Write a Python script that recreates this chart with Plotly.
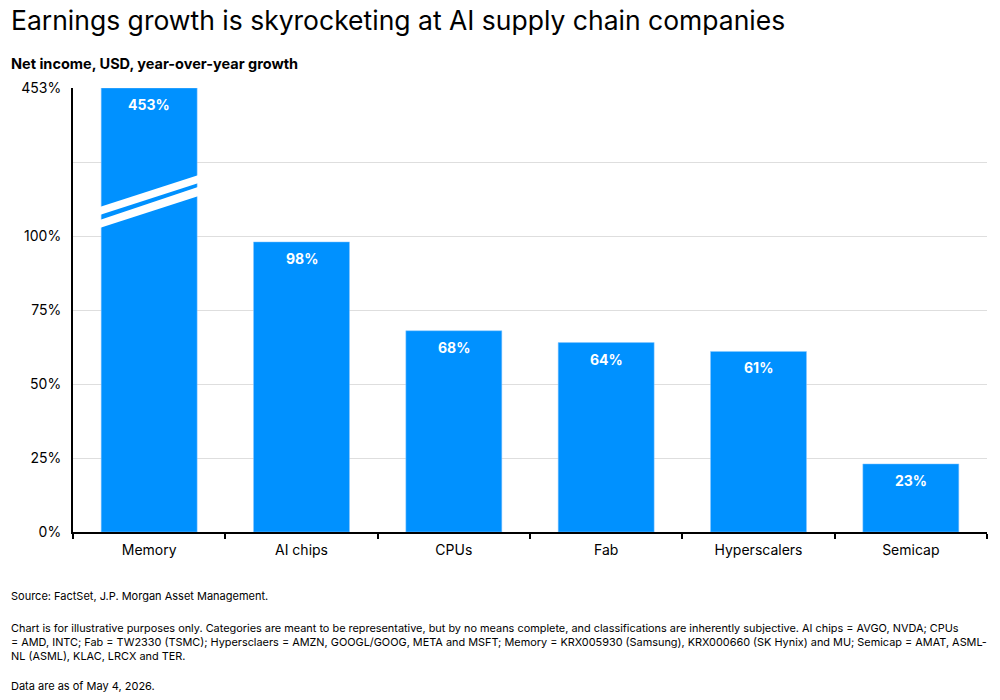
import plotly.graph_objects as go

categories = ["Memory", "AI chips", "CPUs", "Fab", "Hyperscalers", "Semicap"]
growth = [453, 98, 68, 64, 61, 23]

tick_vals = [0, 25, 50, 75, 100, 125, 150]
tick_text = ["0%", "25%", "50%", "75%", "100%", "", "453%"]

cap = 150  # top of the broken axis stands for the Memory value
bar_color = "#0091ff"
bar_w = 0.63
font = "Inter"

shown = [min(v, cap) for v in growth]

fig = go.Figure()
fig.add_trace(go.Bar(
    x=categories,
    y=shown,
    width=bar_w,
    marker=dict(color=bar_color, line=dict(color="#8cc8ff", width=0.5)),
    hoverinfo="skip",
))

# value labels inside the top of each bar
for c, s, v in zip(categories, shown, growth):
    fig.add_annotation(x=c, y=s, text=f"<b>{v}%</b>", showarrow=False,
                       yanchor="top", yshift=-6,
                       font=dict(family=font, size=14, color="white"))

# axis break drawn across the Memory bar
half = bar_w / 2 + 0.01
stripes = [(109.8, 107.1, 120.6, 117.9), (105.4, 102.7, 116.6, 113.5)]
for lt, lb, rt, rb in stripes:
    fig.add_shape(type="path",
                  path=f"M {-half} {lt} L {half} {rt} L {half} {rb} L {-half} {lb} Z",
                  fillcolor="white", line=dict(width=0), layer="above")

left = -0.0695
fig.add_annotation(xref="paper", yref="paper", x=left, y=1.153,
                   xanchor="left", yanchor="middle", showarrow=False,
                   text="Earnings growth is skyrocketing at AI supply chain companies",
                   font=dict(family=font, size=26.5, color="black"))
fig.add_annotation(xref="paper", yref="paper", x=left, y=1.056,
                   xanchor="left", yanchor="middle", showarrow=False,
                   text="<b>Net income, USD, year-over-year growth</b>",
                   font=dict(family=font, size=14.5, color="black"))

notes = ("Chart is for illustrative purposes only. Categories are meant to be representative, but by no means complete, and classifications are inherently subjective. AI chips = AVGO, NVDA; CPUs<br>"
         "= AMD, INTC; Fab = TW2330 (TSMC); Hypersclaers = AMZN, GOOGL/GOOG, META and MSFT; Memory = KRX005930 (Samsung), KRX000660 (SK Hynix) and MU; Semicap = AMAT, ASML-<br>"
         "NL (ASML), KLAC, LRCX and TER.")
fig.add_annotation(xref="paper", yref="paper", x=left, y=-0.144,
                   xanchor="left", yanchor="middle", showarrow=False, align="left",
                   text="Source: FactSet, J.P. Morgan Asset Management.",
                   font=dict(family=font, size=11, color="black"))
fig.add_annotation(xref="paper", yref="paper", x=left, y=-0.248,
                   xanchor="left", yanchor="middle", showarrow=False, align="left",
                   text=notes, font=dict(family=font, size=10.9, color="black"))
fig.add_annotation(xref="paper", yref="paper", x=left, y=-0.347,
                   xanchor="left", yanchor="middle", showarrow=False, align="left",
                   text="Data are as of May 4, 2026.",
                   font=dict(family=font, size=11, color="black"))

fig.update_layout(
    width=1000, height=700,
    margin=dict(l=73, r=13, t=88, b=168),
    paper_bgcolor="white", plot_bgcolor="white",
    showlegend=False,
    bargap=1 - bar_w,
    font=dict(family=font, size=14, color="black"),
    xaxis=dict(showline=True, linecolor="black", linewidth=2,
               ticks="outside", tickson="boundaries", ticklen=5,
               tickcolor="black", tickwidth=1.5, ticklabelstandoff=4,
               tickfont=dict(size=14), showgrid=False),
    yaxis=dict(range=[0, cap], tickvals=tick_vals, ticktext=tick_text,
               showline=True, linecolor="black", linewidth=2,
               showgrid=True, gridcolor="#dedede", gridwidth=1,
               zeroline=False, ticks="", ticklabelstandoff=7,
               tickfont=dict(size=14)),
)

fig.write_html("out.html", config={"displayModeBar": False},
               post_script="document.body.style.margin='0';")
